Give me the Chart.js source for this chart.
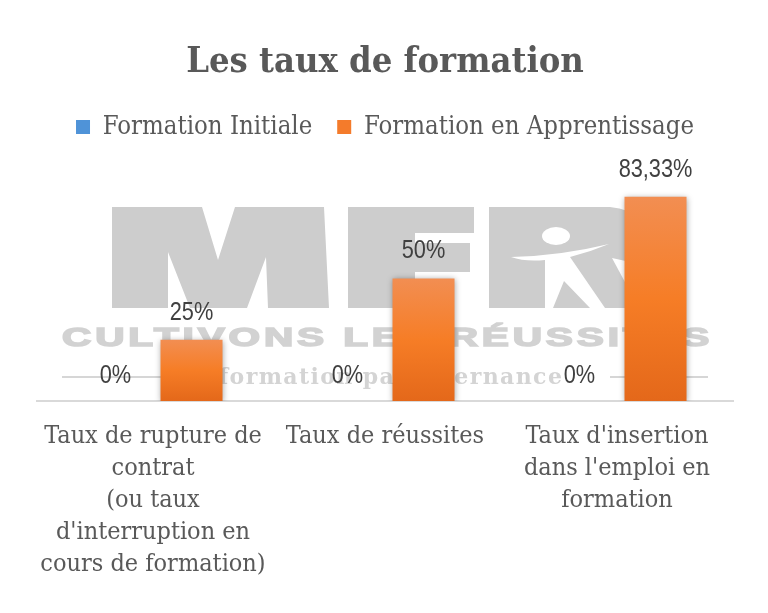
<!DOCTYPE html>
<html><head><meta charset="utf-8">
<style>html,body{margin:0;padding:0;background:#fff}#w{width:768px;height:613px}</style>
<script src="https://cdn.jsdelivr.net/npm/chart.js@4"></script></head>
<body><div id="w"><canvas id="c" width="768" height="613"></canvas></div>
<script>
const categories = [
  ["Taux de rupture de","contrat","(ou taux","d'interruption en","cours de formation)"],
  ["Taux de réussites"],
  ["Taux d'insertion","dans l'emploi en","formation"]
];
const initiale = [0, 0, 0];
const apprentissage = [25, 50, 83.33];
const valueLabels = [["0%","0%","0%"],["25%","50%","83,33%"]];
const titleText = "Les taux de formation";
const seriesNames = ["Formation Initiale","Formation en Apprentissage"];
const serif = "'DejaVu Serif Condensed','DejaVu Serif',serif";

function poly(c,pts){c.beginPath();pts.forEach((p,i)=>i?c.lineTo(p[0],p[1]):c.moveTo(p[0],p[1]));c.closePath();c.fill();}
const watermark = {
  id:'watermark',
  beforeDatasetsDraw(chart){
    const c = chart.ctx; c.save();
    c.fillStyle='#cdcdcd'; c.textBaseline='alphabetic'; c.textAlign='left';
    // M
    poly(c,[[112,207],[202,207],[218,260],[235,207],[324,207],[329,308],[268,308],[266,257],[247,308],[190,308],[168,252],[168,308],[112,308]]);
    // F
    poly(c,[[348,207],[474,207],[474,233],[415,233],[415,243],[470,243],[470,272],[415,272],[415,308],[348,308]]);
    // R
    c.beginPath(); c.moveTo(489,207); c.lineTo(610,207); c.quadraticCurveTo(650,212,650,240);
    c.quadraticCurveTo(648,258,630,262); c.lineTo(660,308); c.lineTo(489,308); c.closePath(); c.fill();
    // figure
    c.fillStyle='#fff';
    c.beginPath(); c.ellipse(556,236,14,9,0,0,7); c.fill();
    c.beginPath(); c.moveTo(511,257); c.quadraticCurveTo(560,256,609,244);
    c.quadraticCurveTo(590,252,570,257); c.lineTo(605,308); c.lineTo(590,308); c.lineTo(564,281); c.lineTo(553,308);
    c.lineTo(545,308); c.lineTo(545,260); c.quadraticCurveTo(525,262,511,257); c.fill();
    poly(c,[[612,258],[630,262],[660,310],[640,310]]);
    // tagline
    c.fillStyle='#d2d2d2';
    c.save(); c.translate(62,346); c.scale(1.62,1);
    c.font="bold 25px 'Liberation Sans'"; c.lineWidth=1.5; c.strokeStyle='#d2d2d2';
    if('letterSpacing' in c) c.letterSpacing='2.4px';
    c.strokeText('CULTIVONS LES RÉUSSITES',0,0); c.fillText('CULTIVONS LES RÉUSSITES',0,0); c.restore();
    c.strokeStyle='#c9c9c9'; c.lineWidth=1.5;
    c.beginPath(); c.moveTo(62,377); c.lineTo(190,377); c.moveTo(610,377); c.lineTo(708,377); c.stroke();
    c.font="bold 22px 'DejaVu Serif'"; c.textAlign='center'; c.fillStyle='#d4d4d4';
    if('letterSpacing' in c) c.letterSpacing='1.4px';
    c.fillText('formation par alternance',391,384);
    c.restore();
  },
  beforeDatasetDraw(chart){ const c=chart.ctx; c.save(); c.shadowColor='rgba(0,0,0,0.35)'; c.shadowBlur=6; c.shadowOffsetY=1; },
  afterDatasetDraw(chart){ chart.ctx.restore(); },
  afterDatasetsDraw(chart){
    const c=chart.ctx;
    chart.data.datasets.forEach((d,i)=>{
      chart.getDatasetMeta(i).data.forEach((b,j)=>{
        c.save();
        c.font="25px 'Liberation Sans'"; c.fillStyle='#404040';
        c.textAlign='center'; c.textBaseline='middle';
        c.translate(b.x+(i?0:1),b.y-(i?27:25)); c.scale(0.87,1);
        c.fillText(valueLabels[i][j],0,0);
        c.restore();
      });
    });
  }
};
function grad(ctx){
  const ch=ctx.chart; if(!ch.chartArea||ctx.raw===undefined) return '#F47B28';
  const y=ch.scales.y, g=ch.ctx.createLinearGradient(0,y.getPixelForValue(ctx.raw),0,y.getPixelForValue(0));
  g.addColorStop(0,'#F28E52'); g.addColorStop(0.5,'#F67D26'); g.addColorStop(1,'#E4681A');
  return g;
}
new Chart(document.getElementById('c'),{
  type:'bar',
  plugins:[watermark],
  data:{labels:categories,datasets:[
    {label:seriesNames[0],data:initiale,backgroundColor:'#4F93D8'},
    {label:seriesNames[1],data:apprentissage,backgroundColor:grad}
  ]},
  options:{
    responsive:false,animation:false,
    devicePixelRatio:1,
    layout:{padding:{left:37,right:35,top:0,bottom:14}},
    datasets:{bar:{categoryPercentage:0.664,barPercentage:0.805}},
    scales:{
      y:{display:false,min:0,max:102.5},
      x:{grid:{display:false,drawTicks:false},border:{color:'#d9d9d9',width:2},
        ticks:{color:'#595959',maxRotation:0,autoSkip:false,padding:19,font:{family:serif,size:25,lineHeight:1.28}}}
    },
    plugins:{
      tooltip:{enabled:false},
      title:{display:true,text:titleText,color:'#595959',font:{family:serif,size:36,weight:'bold'},padding:{top:41,bottom:5}},
      legend:{display:true,position:'top',labels:{color:'#595959',boxWidth:14,boxHeight:14,padding:25,font:{family:serif,size:25.5},
        generateLabels(ch){return ch.data.datasets.map((d,i)=>({text:d.label,fillStyle:i?'#F47B2B':'#4F93D8',strokeStyle:'transparent',lineWidth:0,datasetIndex:i,fontColor:'#595959'}));}}}
    }
  }
});
</script></body></html>
